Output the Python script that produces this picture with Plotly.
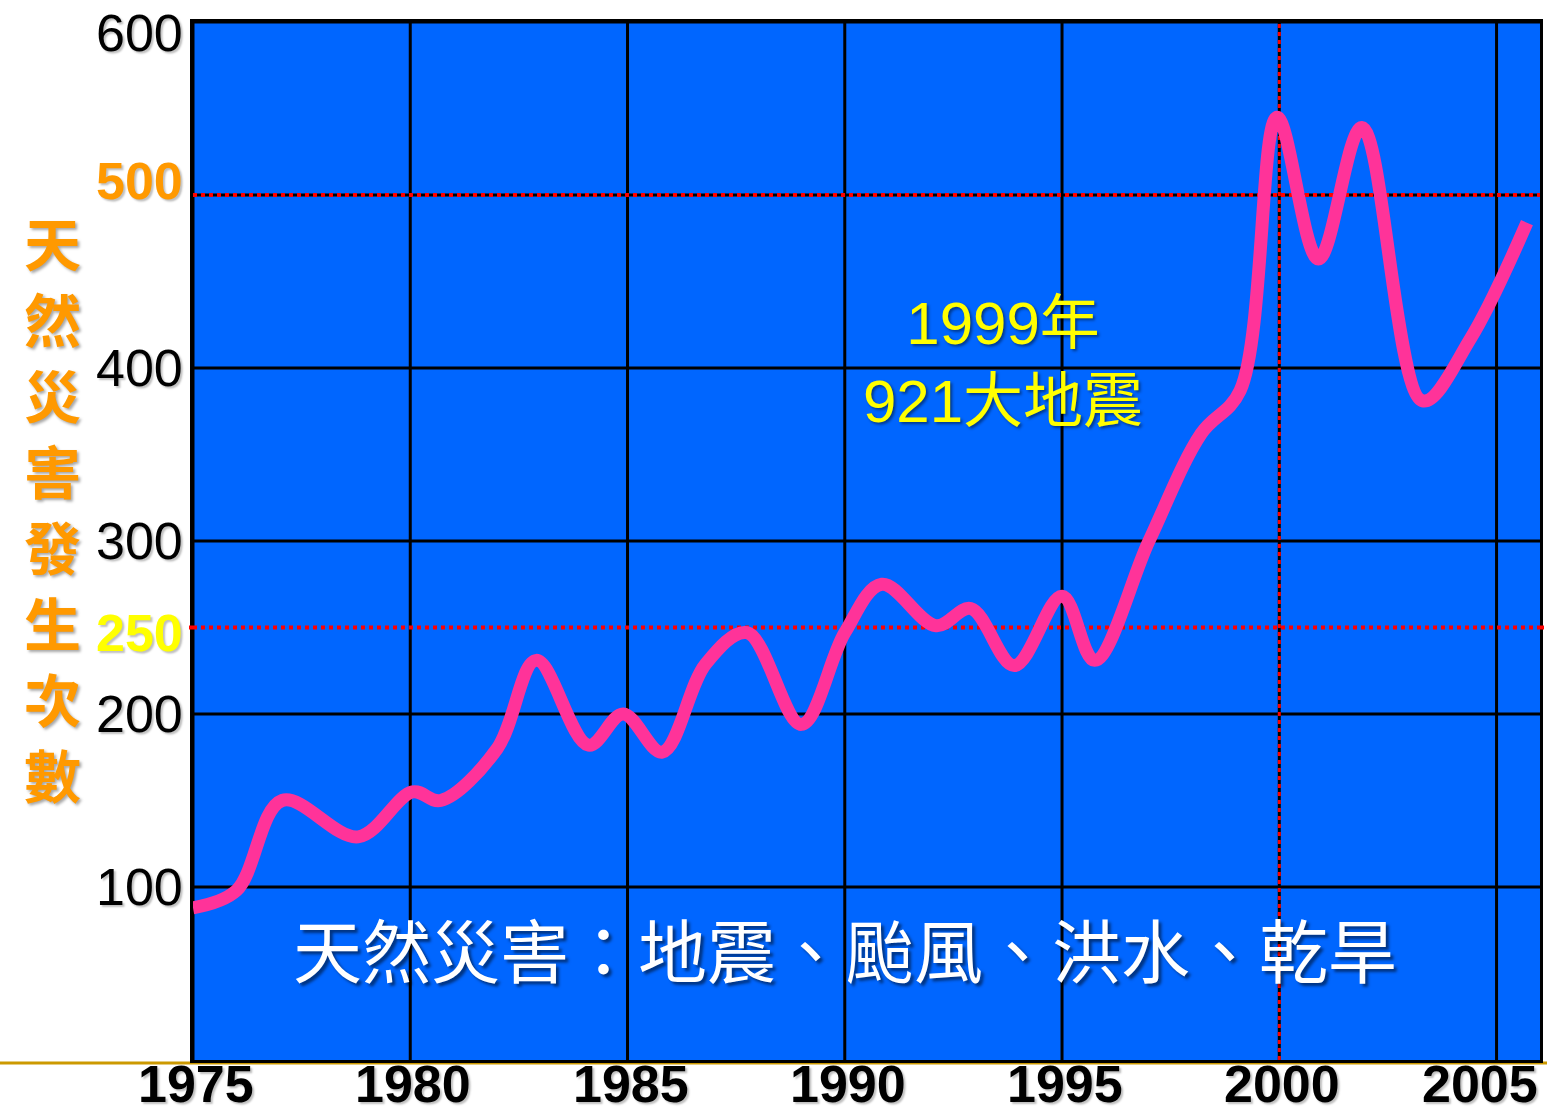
import plotly.graph_objects as go

# Data (year, number of natural-disaster occurrences)
years = [1975.0, 1976.0, 1977.05, 1978.8, 1980.05, 1980.7, 1982.0, 1982.9, 1984.1, 1984.9,
         1985.8, 1986.8, 1987.75, 1989.0, 1990.0, 1990.85, 1992.1, 1992.9, 1993.9, 1995.0,
         1995.75, 1997.0, 1998.2, 1999.1, 1999.95, 2000.9, 2001.9, 2003.3, 2004.4, 2005.7]
counts = [88, 98, 150, 129, 155, 150, 180, 231, 182, 200,
          178, 229, 247, 194, 247, 275, 251, 261, 228, 268,
          231, 300, 362, 387, 545, 463, 539, 381, 417, 484]

x_ticks = [1975, 1980, 1985, 1990, 1995, 2000, 2005]
y_grid = [100, 200, 300, 400, 500, 600]
y_labels = [100, 200, 250, 300, 400, 500, 600]
ref_levels = [500, 250]
ref_year = 2000

y_title = "天然災害發生次數"
note_quake = "1999年<br>921大地震"
note_types = "天然災害：地震、颱風、洪水、乾旱"

W, H = 1547, 1116
L, R, T, B = 193, 7, 22, 56
pw = W - L - R
ph = H - T - B

X_RANGE = [1975, 2006]
Y_RANGE = [0, 600]

fig = go.Figure()
fig.add_trace(go.Scatter(
    x=years, y=counts, mode="lines",
    line=dict(color="#FF3399", width=13, shape="spline", smoothing=1.0),
    hoverinfo="skip", showlegend=False))

shapes = []
grid_line = dict(color="black", width=3)
for xv in x_ticks:
    shapes.append(dict(type="line", xref="x", yref="paper", x0=xv, x1=xv, y0=0, y1=1,
                       line=grid_line, layer="below"))
for yv in y_grid:
    shapes.append(dict(type="line", xref="paper", yref="y", x0=0, x1=1, y0=yv, y1=yv,
                       line=grid_line, layer="below"))
red_dot = dict(color="#FF0000", width=4, dash="4px,4px")
# horizontal reference lines
shapes.append(dict(type="line", xref="paper", yref="y", x0=0, x1=1, y0=ref_levels[0], y1=ref_levels[0],
                   line=red_dot, layer="below"))
shapes.append(dict(type="line", xref="paper", yref="y", x0=0, x1=1, y0=ref_levels[1], y1=ref_levels[1],
                   line=red_dot, layer="below"))
shapes.append(dict(type="line", xref="paper", yref="y", x0=1.0, x1=1 + R / pw, y0=ref_levels[1], y1=ref_levels[1],
                   line=red_dot, layer="above"))
shapes.append(dict(type="line", xref="paper", yref="y", x0=-4 / pw, x1=0, y0=ref_levels[1], y1=ref_levels[1],
                   line=red_dot, layer="above"))
# vertical reference line
shapes.append(dict(type="line", xref="x", yref="paper", x0=ref_year, x1=ref_year, y0=0, y1=1,
                   line=dict(color="#FF0000", width=3, dash="4px,4px"), layer="below"))
# golden base line
shapes.append(dict(type="line", xref="paper", yref="paper", x0=-L / pw, x1=1 + R / pw,
                   y0=-3 / ph, y1=-3 / ph,
                   line=dict(color="#CC9900", width=3), layer="below"))

annotations = []
# vertical y-axis title, one character per line
title_top, title_pitch = 241, 76
for i, ch in enumerate(y_title):
    annotations.append(dict(
        text=ch, xref="paper", yref="paper",
        x=(52 - L) / pw, y=1 - (title_top + i * title_pitch - T) / ph, showarrow=False,
        font=dict(family="Noto Sans CJK TC", size=57, color="#FF9900", weight=700,
                  shadow="2px 2px 3px rgba(0,0,0,0.35)"),
        xanchor="center", yanchor="middle"))

# y tick labels
y_label_style = {
    100: dict(color="black", weight=400, shift=0),
    200: dict(color="black", weight=400, shift=0),
    250: dict(color="#FFFF00", weight=700, shift=-5),
    300: dict(color="black", weight=400, shift=0),
    400: dict(color="black", weight=400, shift=0),
    500: dict(color="#FF9900", weight=700, shift=14),
    600: dict(color="black", weight=400, shift=-11),
}
for yv in y_labels:
    st = y_label_style[yv]
    annotations.append(dict(
        text=str(yv), xref="paper", yref="y", x=(185 - L) / pw, y=yv, yshift=st["shift"],
        showarrow=False, xanchor="right", yanchor="middle",
        font=dict(family="Liberation Sans, Arial", size=52, color=st["color"], weight=st["weight"],
                  shadow="2px 2px 2px rgba(0,0,0,0.25)")))

# x tick labels
for i, xv in enumerate(x_ticks):
    last = i == len(x_ticks) - 1
    annotations.append(dict(
        text=str(xv), xref="paper" if last else "x", yref="paper",
        x=1.0 if last else xv, xshift=0 if last else 3,
        y=-(H - 1 - (H - B)) / ph, showarrow=False,
        xanchor="right" if last else "center", yanchor="bottom",
        font=dict(family="Liberation Sans, Arial", size=52, color="black", weight=700,
                  shadow="2px 2px 2px rgba(0,0,0,0.25)")))

annotations.append(dict(
    text=note_quake, xref="x", yref="y", x=1993.64, y=403, showarrow=False,
    font=dict(family="Liberation Sans, Noto Sans CJK TC", size=60, color="#FFFF00",
              shadow="2px 2px 3px rgba(0,0,0,0.45)"),
    align="center", xanchor="center", yanchor="middle"))
annotations.append(dict(
    text=note_types, xref="x", yref="y", x=1990.0, y=65, showarrow=False,
    font=dict(family="Noto Sans CJK TC", size=69, color="#FFFFFF",
              shadow="3px 3px 3px rgba(0,0,0,0.5)"),
    xanchor="center", yanchor="middle"))

fig.update_layout(
    width=W, height=H,
    margin=dict(l=L, r=R, t=T, b=B, pad=0, autoexpand=False),
    paper_bgcolor="white", plot_bgcolor="#0066FF",
    shapes=shapes, annotations=annotations,
    showlegend=False,
    xaxis=dict(range=X_RANGE, showgrid=False, zeroline=False, showticklabels=False,
               showline=True, linecolor="black", linewidth=3, mirror=True, ticks="",
               automargin=False),
    yaxis=dict(range=Y_RANGE, showgrid=False, zeroline=False, showticklabels=False,
               showline=True, linecolor="black", linewidth=3, mirror=True, ticks="",
               automargin=False),
)

fig.write_html("out.html", config={"displayModeBar": False},
               post_script="document.body.style.margin='0';")
